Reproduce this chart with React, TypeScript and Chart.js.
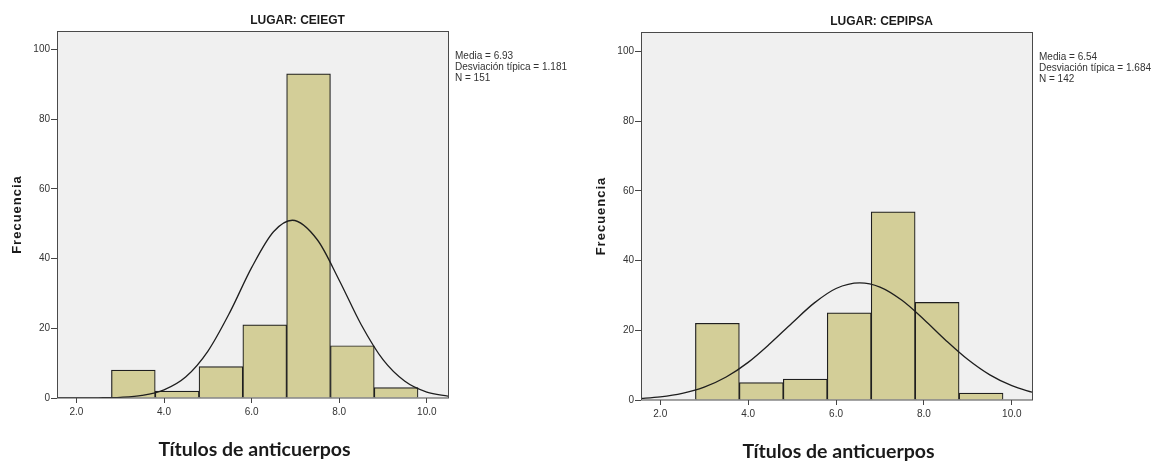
import React, { useEffect, useRef } from 'react';
import { Chart, registerables } from 'chart.js';

Chart.register(...registerables);

// ---- data ----
const binCenters = [3.3, 4.3, 5.3, 6.3, 7.3, 8.3, 9.3];
const ceiegtCounts = [8, 2, 9, 21, 93, 15, 3];
const cepipsaCounts = [22, 5, 6, 25, 54, 28, 2];

const ceiegtCurveX = [1.5, 2, 2.5, 3, 3.5, 4, 4.5, 5, 5.5, 6, 6.5, 6.93, 7.5, 8, 8.5, 9, 9.5, 10, 10.5];
const ceiegtCurveY = [0, 0, 0.05, 0.2, 0.75, 2.35, 6.1, 13.4, 24.5, 37.4, 47.7, 51.0, 45.4, 33.8, 21.1, 11.0, 4.8, 1.7, 0.5];

const cepipsaCurveX = [1.5, 2, 2.5, 3, 3.5, 4, 4.5, 5, 5.5, 6, 6.54, 7, 7.5, 8, 8.5, 9, 9.5, 10, 10.5];
const cepipsaCurveY = [0.4, 0.9, 1.9, 3.7, 6.6, 10.8, 16.2, 22.1, 27.8, 32.0, 33.6, 32.4, 28.6, 23.1, 17.1, 11.6, 7.2, 4.1, 2.1];

const xTickValues = [2, 4, 6, 8, 10];
const yTickValues = [0, 20, 40, 60, 80, 100];

const ceiegtTitle = 'LUGAR: CEIEGT';
const cepipsaTitle = 'LUGAR: CEPIPSA';
const ceiegtStats = ['Media = 6.93', 'Desviación típica = 1.181', 'N = 151'];
const cepipsaStats = ['Media = 6.54', 'Desviación típica = 1.684', 'N = 142'];
const yTitle = 'Frecuencia';
const xTitle = 'Títulos de anticuerpos';

const H = 461;

type Area = { left: number; top: number; right: number; bottom: number };

const panelPlugin = {
  id: 'panel',
  beforeDraw(chart: any) {
    const { ctx, chartArea: a } = chart;
    ctx.save();
    ctx.fillStyle = '#ffffff';
    ctx.fillRect(0, 0, chart.width, chart.height);
    ctx.fillStyle = '#F0F0F0';
    ctx.fillRect(a.left, a.top, a.right - a.left, a.bottom - a.top);
    ctx.restore();
  },
  afterDraw(chart: any, _args: any, opts: any) {
    const { ctx, chartArea: a } = chart;
    ctx.save();
    ctx.strokeStyle = '#4a4a4a';
    ctx.lineWidth = 1;
    ctx.strokeRect(Math.round(a.left) + 0.5, Math.round(a.top) + 0.5, Math.round(a.right - a.left), Math.round(a.bottom - a.top) - 0.5);

    const cx = (a.left + a.right) / 2;
    // title
    ctx.fillStyle = '#1a1a1a';
    ctx.font = 'bold 12px "Liberation Sans", Arial, sans-serif';
    ctx.textAlign = 'center';
    ctx.textBaseline = 'middle';
    ctx.fillText(opts.title, cx + 45, a.top - 10.5);

    // x title
    ctx.font = 'bold 19.5px Lato, "Open Sans", sans-serif';
    ctx.fillText(opts.xTitle, cx + 2, a.bottom + 52);

    // y title
    ctx.save();
    ctx.translate(a.left - 40, (a.top + a.bottom) / 2);
    ctx.rotate(-Math.PI / 2);
    ctx.font = 'bold 13px "Liberation Sans", Arial, sans-serif';
    (ctx as any).letterSpacing = '1px';
    ctx.fillText(opts.yTitle, 0, 0);
    ctx.restore();

    // stats
    ctx.fillStyle = '#333333';
    ctx.font = '10px "Liberation Sans", Arial, sans-serif';
    ctx.textAlign = 'left';
    opts.stats.forEach((s: string, i: number) => {
      ctx.fillText(s, a.right + 7, a.top + 25.5 + i * 11);
    });
    ctx.restore();
  },
};

type PanelProps = {
  left: number;
  width: number;
  area: Area;
  xMin: number;
  xMax: number;
  yMax: number;
  counts: number[];
  curveX: number[];
  curveY: number[];
  title: string;
  stats: string[];
};

function Panel(p: PanelProps) {
  const ref = useRef<HTMLCanvasElement | null>(null);
  useEffect(() => {
    if (!ref.current) return;
    const tickFont = { family: '"Liberation Sans", Arial, sans-serif', size: 10 };
    const chart = new Chart(ref.current, {
      type: 'bar',
      data: {
        datasets: [
          {
            type: 'line',
            data: p.curveX.map((x, i) => ({ x, y: p.curveY[i] })),
            borderColor: '#1e1e1e',
            borderWidth: 1.3,
            pointRadius: 0,
            fill: false,
            cubicInterpolationMode: 'monotone',
            order: 0,
          } as any,
          {
            type: 'bar',
            data: binCenters.map((x, i) => ({ x, y: p.counts[i] })),
            backgroundColor: '#D3CE98',
            borderColor: '#1f1f1f',
            borderWidth: 1.2,
            borderSkipped: 'start',
            barPercentage: 1,
            categoryPercentage: 1,
            order: 1,
          } as any,
        ],
      },
      options: {
        responsive: false,
        animation: false,
        devicePixelRatio: 1,
        events: [],
        layout: { padding: { left: 0, top: p.area.top, right: p.width - p.area.right, bottom: 0 } },
        plugins: {
          legend: { display: false },
          tooltip: { enabled: false },
          title: { display: false },
          panel: { title: p.title, stats: p.stats, xTitle, yTitle },
        } as any,
        scales: {
          x: {
            type: 'linear',
            min: p.xMin,
            max: p.xMax,
            offset: false,
            grid: { display: true, drawOnChartArea: false, drawTicks: true, tickLength: 5, color: '#444', offset: false },
            border: { display: false },
            ticks: {
              color: '#333',
              font: tickFont,
              padding: 3,
              maxRotation: 0,
              autoSkip: false,
              callback: (v: any) => Number(v).toFixed(1),
            },
            afterBuildTicks: (s: any) => {
              s.ticks = xTickValues.map((v) => ({ value: v }));
            },
            afterFit: (s: any) => {
              s.height = H - p.area.bottom;
            },
          },
          y: {
            type: 'linear',
            min: 0,
            max: p.yMax,
            grid: { display: true, drawOnChartArea: false, drawTicks: true, tickLength: 6, color: '#444' },
            border: { display: false },
            ticks: {
              color: '#333',
              font: tickFont,
              padding: 1,
              autoSkip: false,
              callback: (v: any) => String(v),
            },
            afterBuildTicks: (s: any) => {
              s.ticks = yTickValues.map((v) => ({ value: v }));
            },
            afterFit: (s: any) => {
              s.width = p.area.left;
            },
          },
        } as any,
      },
      plugins: [panelPlugin as any],
    });
    return () => chart.destroy();
  }, []);
  return (
    <div style={{ position: 'absolute', left: p.left, top: 0, width: p.width, height: H }}>
      <canvas ref={ref} width={p.width} height={H} style={{ width: p.width, height: H, display: 'block' }} />
    </div>
  );
}

export default function App() {
  return (
    <div style={{ position: 'absolute', left: 0, top: 0, width: 1156, height: H, background: '#fff', overflow: 'hidden' }}>
      <Panel
        left={0}
        width={580}
        area={{ left: 57, top: 31, right: 448, bottom: 398 }}
        xMin={1.557}
        xMax={10.484}
        yMax={105.3}
        counts={ceiegtCounts}
        curveX={ceiegtCurveX}
        curveY={ceiegtCurveY}
        title={ceiegtTitle}
        stats={ceiegtStats}
      />
      <Panel
        left={580}
        width={576}
        area={{ left: 61, top: 32, right: 452, bottom: 400 }}
        xMin={1.562}
        xMax={10.459}
        yMax={105.6}
        counts={cepipsaCounts}
        curveX={cepipsaCurveX}
        curveY={cepipsaCurveY}
        title={cepipsaTitle}
        stats={cepipsaStats}
      />
    </div>
  );
}
